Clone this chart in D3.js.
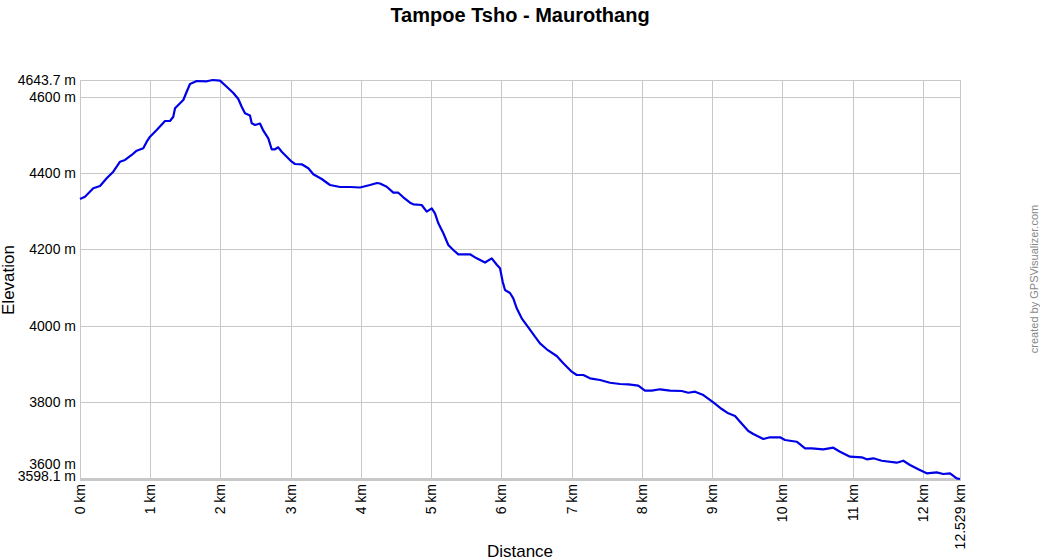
<!DOCTYPE html>
<html><head><meta charset="utf-8">
<script src="https://cdn.jsdelivr.net/npm/d3@7"></script>
<style>body{margin:0;background:#fff}svg{display:block}text{font-family:"Liberation Sans",Arial,sans-serif}</style>
</head><body><svg id="c" width="1040" height="560"></svg>
<script>
const title = "Tampoe Tsho - Maurothang";
const distanceKm = [0.000,0.071,0.189,0.285,0.380,0.474,0.570,0.641,0.736,0.807,0.901,0.950,0.997,1.092,1.210,1.281,1.328,1.353,1.424,1.471,1.519,1.566,1.662,1.804,1.890,1.993,2.089,2.183,2.254,2.302,2.349,2.420,2.445,2.492,2.563,2.610,2.681,2.729,2.776,2.823,2.872,2.943,3.014,3.061,3.157,3.251,3.322,3.441,3.560,3.702,3.844,3.987,4.129,4.229,4.271,4.367,4.461,4.532,4.603,4.699,4.746,4.865,4.936,5.008,5.054,5.102,5.173,5.244,5.315,5.386,5.553,5.648,5.766,5.862,5.937,5.980,6.018,6.051,6.122,6.169,6.218,6.289,6.383,6.478,6.549,6.645,6.787,6.881,7.001,7.072,7.166,7.261,7.404,7.546,7.689,7.807,7.949,8.044,8.140,8.258,8.400,8.567,8.661,8.756,8.875,9.017,9.137,9.230,9.326,9.397,9.515,9.586,9.729,9.824,9.967,10.038,10.204,10.323,10.418,10.583,10.725,10.821,10.963,11.130,11.201,11.295,11.414,11.628,11.722,11.817,11.935,12.055,12.197,12.291,12.387,12.482,12.529];
const elevationM = [4331.9,4337.9,4359.9,4365.9,4386.1,4403.4,4429.6,4434.1,4447.2,4458.4,4464.7,4482.0,4495.1,4512.7,4536.3,4536.3,4547.5,4569.5,4582.6,4591.3,4613.0,4633.2,4641.1,4640.3,4643.7,4641.9,4626.1,4609.6,4593.9,4573.7,4556.4,4550.7,4530.2,4525.8,4529.7,4510.8,4490.9,4462.1,4462.1,4467.3,4455.8,4442.7,4429.6,4423.6,4422.8,4412.3,4396.6,4384.3,4368.5,4363.3,4363.3,4362.0,4368.5,4373.8,4372.5,4364.1,4348.4,4348.4,4336.3,4322.2,4318.0,4316.1,4298.6,4307.5,4294.4,4268.2,4242.0,4211.3,4198.2,4186.9,4186.9,4176.4,4165.4,4176.4,4158.9,4150.2,4115.1,4093.4,4085.5,4071.6,4045.4,4019.2,3995.6,3971.0,3953.7,3938.0,3920.4,3901.3,3879.3,3870.6,3870.6,3862.0,3857.5,3850.4,3847.0,3846.2,3842.6,3829.5,3829.5,3833.2,3829.5,3828.7,3824.2,3826.9,3818.2,3798.6,3781.5,3770.2,3763.2,3748.2,3723.9,3716.0,3702.9,3707.4,3707.4,3700.3,3695.8,3678.5,3678.5,3675.9,3680.1,3669.6,3656.5,3654.9,3649.7,3652.3,3646.0,3640.8,3646.0,3634.8,3623.5,3613.0,3615.6,3611.2,3613.0,3599.9,3598.1];
const xTicks = [0,1,2,3,4,5,6,7,8,9,10,11,12,12.529];
const xTickLabels = ["0 km","1 km","2 km","3 km","4 km","5 km","6 km","7 km","8 km","9 km","10 km","11 km","12 km","12.529 km"];
const yTicks = [3600,3800,4000,4200,4400,4600];
const yTickLabels = ["3600 m","3800 m","4000 m","4200 m","4400 m","4600 m"];
const yExtremes = [3598.1,4643.7];
const yExtremeLabels = ["3598.1 m","4643.7 m"];

const svg = d3.select("#c");
const L=80,R=960,T=80,B=479;
const x = d3.scaleLinear().domain([0,12.529]).range([L,R]);
const y = d3.scaleLinear().domain([3598.1,4643.7]).range([B,T]);
const grid="#c8c8c8";
const g = svg.append("g");
xTicks.forEach(v=>{
  const px=Math.round(x(v))+0.5;
  g.append("line").attr("x1",px).attr("x2",px).attr("y1",T).attr("y2",B).attr("stroke",grid);
});
yTicks.concat([4643.7]).forEach(v=>{
  const py=Math.round(y(v))+0.5;
  g.append("line").attr("x1",L).attr("x2",R).attr("y1",py).attr("y2",py).attr("stroke",grid);
});
g.append("line").attr("x1",L+0.5).attr("x2",L+0.5).attr("y1",T).attr("y2",B).attr("stroke",grid);
g.append("line").attr("x1",L).attr("x2",R+1).attr("y1",B+1).attr("y2",B+1).attr("stroke",grid).attr("stroke-width",2);

const yl = svg.append("g").attr("font-size",14).attr("fill","#000").attr("text-anchor","end");
const extremePx = yExtremes.map(v=>y(v));
yExtremes.forEach((v,i)=>{
  const py = y(v) + (i===0 ? -3 : 0);
  yl.append("text").attr("x",76).attr("y",py).attr("dy","0.35em").text(yExtremeLabels[i]);
});
yTicks.forEach((v,i)=>{
  let py=y(v);
  extremePx.forEach(ep=>{
    if (Math.abs(py-ep)<13) py = ep + (py<ep ? -15 : 15);
  });
  yl.append("text").attr("x",76).attr("y",py).attr("dy","0.35em").text(yTickLabels[i]);
});
const xl = svg.append("g").attr("font-size",14).attr("fill","#000").attr("text-anchor","end");
xTicks.forEach((v,i)=>{
  const px=x(v);
  xl.append("text").attr("transform",`translate(${px},484) rotate(-90)`).attr("dy","0.35em").text(xTickLabels[i]);
});

const pts = distanceKm.map((d,i)=>[d,elevationM[i]]);
svg.append("path").datum(pts)
  .attr("d", d3.line().x(d=>x(d[0])).y(d=>y(d[1])))
  .attr("fill","none").attr("stroke","#0000e6").attr("stroke-width",2.2).attr("stroke-linejoin","round");

svg.append("text").attr("x",520).attr("y",22).attr("text-anchor","middle").attr("font-size",20).attr("font-weight","bold").text(title);
svg.append("text").attr("x",520).attr("y",557).attr("text-anchor","middle").attr("font-size",17).text("Distance");
svg.append("text").attr("transform","translate(14,280) rotate(-90)").attr("text-anchor","middle").attr("font-size",17).text("Elevation");
svg.append("text").attr("transform","translate(1038,279) rotate(-90)").attr("text-anchor","middle").attr("font-size",11).attr("fill","#888").text("created by GPSVisualizer.com");
</script></body></html>
